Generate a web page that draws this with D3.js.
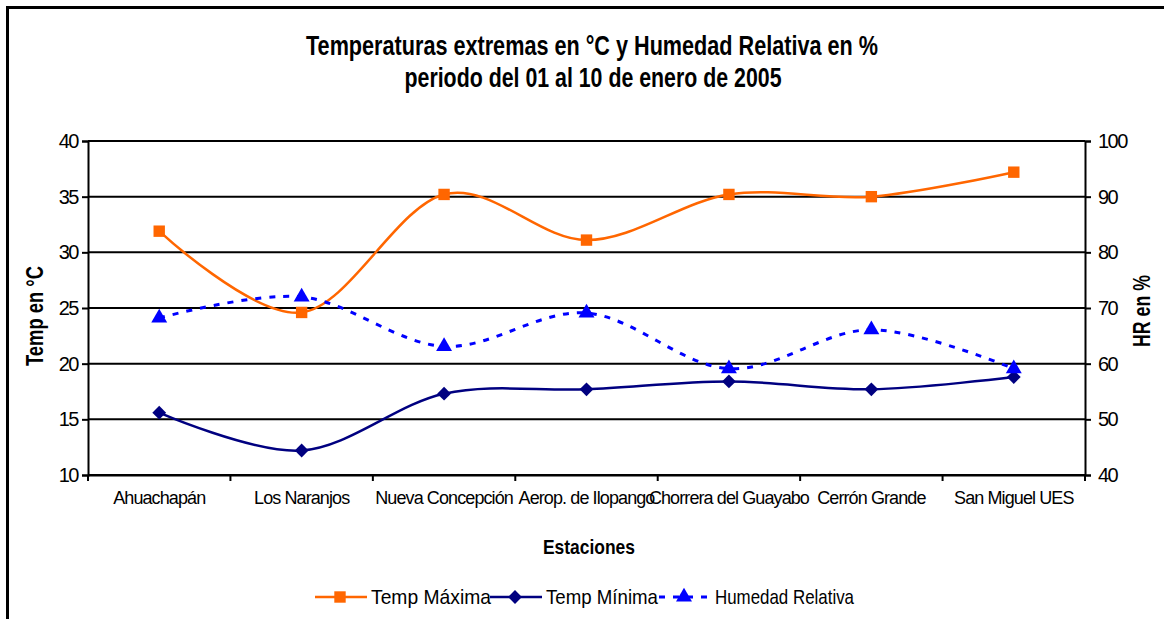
<!DOCTYPE html>
<html>
<head>
<meta charset="utf-8">
<script src="https://cdn.jsdelivr.net/npm/d3@7/dist/d3.min.js"></script>
<style>
  body { margin: 0; background: #fff; }
  text { font-family: "Liberation Sans", Arial, sans-serif; fill: #000; }
</style>
</head>
<body>
<script>
// datos
var estaciones = ['Ahuachapán', 'Los Naranjos', 'Nueva Concepción', 'Aerop. de Ilopango',
                  'Chorrera del Guayabo', 'Cerrón Grande', 'San Miguel UES'];
var tempMaxima = [31.9, 24.6, 35.2, 31.1, 35.2, 35.0, 37.2];
var tempMinima = [15.6, 12.2, 17.3, 17.7, 18.4, 17.7, 18.8];
var humedad    = [68.2, 72.0, 63.1, 69.1, 59.1, 66.1, 59.1];
var ticksTemp = [10, 15, 20, 25, 30, 35, 40];
var ticksHR   = [40, 50, 60, 70, 80, 90, 100];

window.onload = function(){

    var W = 1164, H = 619;
    var m = {left: 88, right: 1085, top: 141, bottom: 475};

    var svg = d3.select(document.body)
        .append('svg')
        .attr('width', W)
        .attr('height', H);

    // marco exterior
    svg.append('rect')
        .attr('x', 7.5).attr('y', 7.5)
        .attr('width', 1300).attr('height', 800)
        .attr('fill', 'none')
        .attr('stroke', '#000')
        .attr('stroke-width', 3);

    // escalas
    var x = d3.scaleBand().domain(estaciones).range([m.left, m.right]);
    var yT = d3.scaleLinear().domain([10, 40]).range([m.bottom, m.top]);
    var yH = d3.scaleLinear().domain([40, 100]).range([m.bottom, m.top]);
    var cx = function(d, i){ return x(estaciones[i]) + x.bandwidth() / 2; };

    // lineas de division
    svg.append('g')
        .selectAll('line')
        .data(ticksTemp)
        .enter()
        .append('line')
        .attr('x1', m.left).attr('x2', m.right)
        .attr('y1', function(d){ return yT(d); })
        .attr('y2', function(d){ return yT(d); })
        .attr('stroke', '#000')
        .attr('stroke-width', 2);

    // ejes
    var ejeIzq = svg.append('g')
        .attr('transform', 'translate(' + m.left + ',0)')
        .call(d3.axisLeft(yT).tickValues(ticksTemp).tickSize(6).tickPadding(4));
    var ejeDer = svg.append('g')
        .attr('transform', 'translate(' + m.right + ',0)')
        .call(d3.axisRight(yH).tickValues(ticksHR).tickSize(6).tickPadding(7));
    var ejeX = svg.append('g')
        .attr('transform', 'translate(0,' + m.bottom + ')')
        .call(d3.axisBottom(x).tickSize(0).tickPadding(16));

    [ejeIzq, ejeDer, ejeX].forEach(function(g){
        g.select('.domain').attr('stroke', '#000').attr('stroke-width', 2);
        g.selectAll('.tick line').attr('stroke', '#000').attr('stroke-width', 2);
        g.selectAll('text')
            .style('font-family', '"Liberation Sans", Arial, sans-serif')
            .attr('fill', '#000');
    });
    ejeIzq.selectAll('text').style('font-size', '20px').style('letter-spacing', '-1.5px');
    ejeDer.selectAll('text').style('font-size', '20px').style('letter-spacing', '-1.5px');
    ejeX.selectAll('text').style('font-size', '18px').style('letter-spacing', '-0.9px');

    // marcas del eje x en los limites de categoria
    svg.append('g')
        .selectAll('line')
        .data(d3.range(estaciones.length + 1))
        .enter()
        .append('line')
        .attr('x1', function(i){ return m.left + i * x.step(); })
        .attr('x2', function(i){ return m.left + i * x.step(); })
        .attr('y1', m.bottom).attr('y2', m.bottom + 6)
        .attr('stroke', '#000')
        .attr('stroke-width', 2);

    // series
    var curva = d3.curveCardinal.tension(0);
    var series = [
        {nombre: 'Temp Máxima', datos: tempMaxima, y: yT, color: '#FF6600', dash: null, marca: d3.symbolSquare, tam: 130, rot: 0},
        {nombre: 'Temp Mínima', datos: tempMinima, y: yT, color: '#000080', dash: null, marca: d3.symbolSquare, tam: 95, rot: 45},
        {nombre: 'Humedad Relativa', datos: humedad, y: yH, color: '#0000FF', dash: '6,8', marca: d3.symbolTriangle, tam: 110, rot: 0}
    ];

    series.forEach(function(s){
        var linea = d3.line()
            .x(cx)
            .y(function(d){ return s.y(d); })
            .curve(curva);
        svg.append('path')
            .attr('d', linea(s.datos))
            .attr('fill', 'none')
            .attr('stroke', s.color)
            .attr('stroke-width', s.dash ? 3 : 2.5)
            .attr('stroke-dasharray', s.dash);
        svg.append('g')
            .selectAll('path')
            .data(s.datos)
            .enter()
            .append('path')
            .attr('d', d3.symbol().type(s.marca).size(s.tam))
            .attr('transform', function(d, i){
                return 'translate(' + cx(d, i) + ',' + s.y(d) + ') rotate(' + s.rot + ')';
            })
            .attr('fill', s.color);
    });

    // titulo
    svg.append('text')
        .attr('x', 592).attr('y', 55)
        .attr('text-anchor', 'middle')
        .attr('textLength', 572).attr('lengthAdjust', 'spacingAndGlyphs')
        .style('font-size', '27px').style('font-weight', 'bold')
        .text('Temperaturas extremas en °C y Humedad Relativa en %');
    svg.append('text')
        .attr('x', 593).attr('y', 87)
        .attr('text-anchor', 'middle')
        .attr('textLength', 377).attr('lengthAdjust', 'spacingAndGlyphs')
        .style('font-size', '27px').style('font-weight', 'bold')
        .text('periodo del 01 al 10 de enero de 2005');

    // titulos de ejes
    svg.append('text')
        .attr('transform', 'translate(43,316) rotate(-90)')
        .attr('text-anchor', 'middle')
        .attr('textLength', 100).attr('lengthAdjust', 'spacingAndGlyphs')
        .style('font-size', '24px').style('font-weight', 'bold')
        .text('Temp en °C');
    svg.append('text')
        .attr('transform', 'translate(1150,311) rotate(-90)')
        .attr('text-anchor', 'middle')
        .attr('textLength', 72).attr('lengthAdjust', 'spacingAndGlyphs')
        .style('font-size', '23px').style('font-weight', 'bold')
        .text('HR en %');
    svg.append('text')
        .attr('x', 589).attr('y', 554)
        .attr('text-anchor', 'middle')
        .attr('textLength', 92).attr('lengthAdjust', 'spacingAndGlyphs')
        .style('font-size', '21px').style('font-weight', 'bold')
        .text('Estaciones');

    // leyenda
    var ley = [
        {x0: 315, largo: 120},
        {x0: 490, largo: 112},
        {x0: 659, largo: 139}
    ];
    series.forEach(function(s, i){
        var g = svg.append('g').attr('transform', 'translate(' + ley[i].x0 + ',597)');
        g.append('line')
            .attr('x1', 0).attr('x2', 52)
            .attr('stroke', s.color)
            .attr('stroke-width', s.dash ? 3 : 2.5)
            .attr('stroke-dasharray', s.dash);
        g.append('path')
            .attr('d', d3.symbol().type(s.marca).size(s.tam))
            .attr('transform', 'translate(25,0) rotate(' + s.rot + ')')
            .attr('fill', s.color);
        g.append('text')
            .attr('x', 56).attr('y', 7)
            .attr('textLength', ley[i].largo).attr('lengthAdjust', 'spacingAndGlyphs')
            .style('font-size', '21px')
            .text(s.nombre);
    });
}
</script>
</body>
</html>
